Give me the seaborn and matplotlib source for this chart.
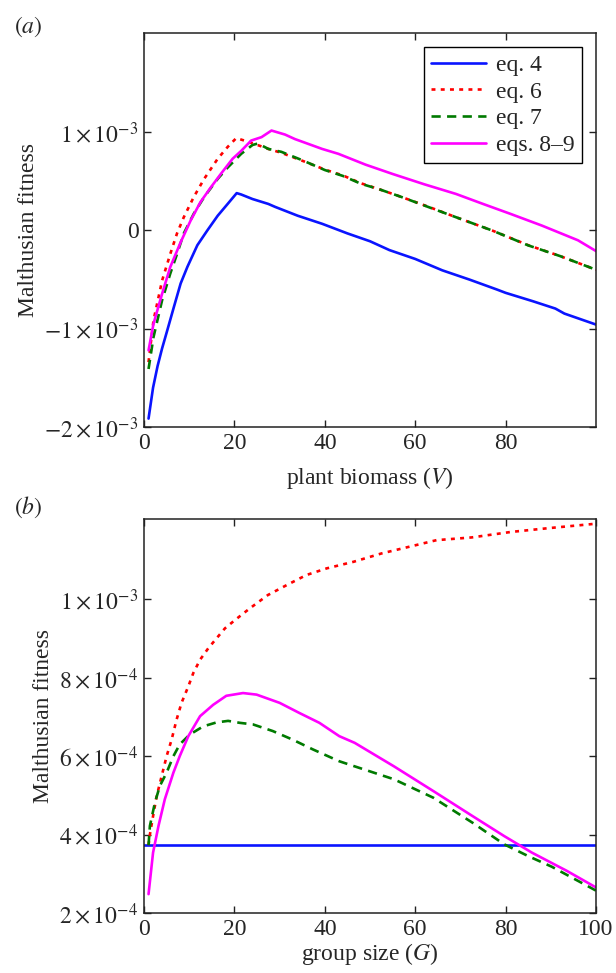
import matplotlib
matplotlib.use("Agg")
import matplotlib.pyplot as plt
import seaborn as sns
import numpy as np

# ---------------- data: panel (a) ----------------
a_eq4_x = [1, 2, 3, 4, 5, 6.6, 8.1, 9.6, 11.8, 14, 16.3, 18.5, 20.5, 21.5, 24, 27.5, 29, 34,
           39.4, 45, 50, 54.3, 60, 66, 72, 78, 80, 86, 91, 93, 100]
a_eq4_y = [-1.915, -1.6, -1.38, -1.2, -1.04, -0.78, -0.54, -0.37, -0.15, 0.0, 0.15, 0.27, 0.38,
           0.366, 0.32, 0.27, 0.24, 0.15, 0.068, -0.03, -0.11, -0.2, -0.29, -0.406, -0.5, -0.6,
           -0.635, -0.72, -0.795, -0.846, -0.958]

a_eq6_x = [1, 2.1, 4, 5.8, 7.3, 8.8, 11, 13.3, 16.3, 18.5, 20.4, 22.2, 24.5, 27.5, 30.4, 35, 40,
           44, 48, 52, 57, 63, 69, 77, 85, 92, 100]
a_eq6_y = [-1.34, -0.915, -0.51, -0.24, -0.03, 0.135, 0.34, 0.525, 0.73, 0.85, 0.94, 0.915, 0.88,
           0.83, 0.79, 0.71, 0.62, 0.56, 0.48, 0.42, 0.34, 0.24, 0.135, 0.0, -0.15, -0.26, -0.40]

a_eq7_x = [1, 2.1, 4, 5.8, 7.3, 8.8, 11, 13.3, 16.3, 18.5, 21.5, 24, 25.2, 27.5, 30.4, 35, 40,
           44, 48, 52, 57, 63, 69, 77, 85, 92, 100]
a_eq7_y = [-1.41, -1.085, -0.71, -0.44, -0.24, -0.03, 0.17, 0.34, 0.525, 0.64, 0.78, 0.87, 0.885,
           0.83, 0.80, 0.715, 0.615, 0.555, 0.475, 0.42, 0.34, 0.237, 0.135, 0.0, -0.152, -0.26, -0.40]

a_eq89_x = [1, 2.1, 4, 5.8, 8.1, 10.3, 12.5, 14.8, 17, 19.6, 21.5, 23.7, 26, 28.2, 31.2, 33.4,
            39.4, 43, 49, 55, 62, 69, 75, 81, 88, 96, 100]
a_eq89_y = [-1.22, -0.95, -0.644, -0.373, -0.12, 0.10, 0.29, 0.44, 0.576, 0.73, 0.81, 0.915, 0.95,
            1.017, 0.976, 0.93, 0.83, 0.78, 0.67, 0.575, 0.47, 0.372, 0.27, 0.17, 0.05, -0.10, -0.21]

# ---------------- data: panel (b) ----------------
b_eq4_x = [0, 100]
b_eq4_y = [3.73, 3.73]

b_eq6_x = [1, 1.3, 2, 2.8, 3.9, 5, 6.1, 7.2, 8.3, 9.8, 10.9, 12.4, 14.2, 16, 17.9, 20.1, 23.4,
           27.4, 31.5, 35.9, 40.4, 46.4, 52.5, 58.6, 64.7, 72.5, 81.2, 89.8, 100]
b_eq6_y = [3.73, 4.0, 4.47, 4.98, 5.49, 6.0, 6.42, 6.93, 7.36, 7.78, 8.12, 8.46, 8.75, 9.0, 9.26,
           9.47, 9.77, 10.11, 10.36, 10.62, 10.79, 10.96, 11.17, 11.34, 11.51, 11.58, 11.72, 11.82, 11.93]

b_eq7_x = [1, 1.3, 2.4, 3.5, 5, 6.5, 7.9, 10.1, 13.1, 16, 18.6, 21.2, 24.1, 28.5, 32.9, 37.4,
           43.2, 46.6, 55.3, 64, 72.7, 79.7, 85, 90.2, 100]
b_eq7_y = [3.73, 4.22, 4.81, 5.24, 5.58, 6.0, 6.3, 6.55, 6.76, 6.86, 6.9, 6.85, 6.81, 6.64, 6.42,
           6.17, 5.87, 5.74, 5.41, 4.94, 4.3, 3.75, 3.45, 3.18, 2.57]

b_eq89_x = [1, 2, 3.2, 4.6, 6.5, 7.9, 9.8, 12.4, 15.3, 18.2, 21.9, 24.9, 30, 34.4, 38.8, 43.2,
            46.6, 55.3, 64, 72.7, 79.7, 85.8, 93.6, 100]
b_eq89_y = [2.48, 3.54, 4.22, 4.9, 5.58, 6.0, 6.51, 7.02, 7.31, 7.54, 7.61, 7.57, 7.36, 7.1, 6.85,
            6.51, 6.34, 5.74, 5.11, 4.47, 3.96, 3.54, 3.07, 2.65]

labels = ["eq. 4", "eq. 6", "eq. 7", "eqs. 8–9"]
colors = ["#0a14ff", "#ff0000", "#007a00", "#ff00ff"]
styles = ["-", (0, (1.5, 2.0)), (0, (3.5, 2.4)), "-"]

a_yticks = [-2e-3, -1e-3, 0, 1e-3]
a_yticklabels = [r"$-2\times10^{-3}$", r"$-1\times10^{-3}$", "0", r"$1\times10^{-3}$"]
b_yticks = [2e-4, 4e-4, 6e-4, 8e-4, 1e-3]
b_yticklabels = [r"$2\times10^{-4}$", r"$4\times10^{-4}$", r"$6\times10^{-4}$",
                 r"$8\times10^{-4}$", r"$1\times10^{-3}$"]

# ---------------- style ----------------
sns.set_theme(style="ticks")
plt.rcParams["font.family"] = ["Liberation Serif", "DejaVu Serif"]
plt.rcParams["mathtext.fontset"] = "stix"
plt.rcParams["xtick.direction"] = "in"
plt.rcParams["ytick.direction"] = "in"
plt.rcParams["xtick.top"] = True
plt.rcParams["ytick.right"] = True
FS = 17

fig = plt.figure(figsize=(6.16, 9.73), dpi=100)
ax1 = fig.add_axes([0.2338, 0.5612, 0.7338, 0.4049])
ax2 = fig.add_axes([0.2338, 0.0617, 0.7338, 0.4049])

a_series = [(a_eq4_x, a_eq4_y), (a_eq6_x, a_eq6_y), (a_eq7_x, a_eq7_y), (a_eq89_x, a_eq89_y)]
b_series = [(b_eq4_x, b_eq4_y), (b_eq6_x, b_eq6_y), (b_eq7_x, b_eq7_y), (b_eq89_x, b_eq89_y)]

for (x, y), lab, c, ls in zip(a_series, labels, colors, styles):
    sns.lineplot(x=np.array(x), y=np.array(y) * 1e-3, ax=ax1, color=c, linestyle=ls,
                 linewidth=1.9, label=lab, estimator=None)
for (x, y), lab, c, ls in zip(b_series, labels, colors, styles):
    sns.lineplot(x=np.array(x), y=np.array(y) * 1e-4, ax=ax2, color=c, linestyle=ls,
                 linewidth=1.9, label=None, estimator=None)

# axes (a)
ax1.set_xlim(0, 100)
ax1.set_ylim(-2e-3, 2.01e-3)
ax1.set_xticks([0, 20, 40, 60, 80])
ax1.set_yticks(a_yticks)
ax1.set_yticklabels(a_yticklabels)
ax1.set_xlabel(r"plant biomass ($V$)", fontsize=FS, labelpad=8)
ax1.set_ylabel("Malthusian fitness", fontsize=FS, labelpad=4)
leg = ax1.legend(loc="upper right", bbox_to_anchor=(0.969, 0.964), borderaxespad=0,
                 fontsize=FS, frameon=True, fancybox=False, framealpha=1, edgecolor="black",
                 handlelength=2.3, handletextpad=0.45, labelspacing=0.22, borderpad=0.3)
leg.get_frame().set_linewidth(1.0)

# axes (b)
ax2.set_xlim(0, 100)
ax2.set_ylim(2e-4, 1.205e-3)
ax2.set_xticks([0, 20, 40, 60, 80, 100])
ax2.set_yticks(b_yticks)
ax2.set_yticklabels(b_yticklabels)
ax2.set_xlabel(r"group size ($G$)", fontsize=FS, labelpad=1)
ax2.set_ylabel("Malthusian fitness", fontsize=FS, labelpad=4)

for ax in (ax1, ax2):
    for s in ax.spines.values():
        s.set_visible(True)
        s.set_linewidth(1.1)
        s.set_color("#222222")
    ax.tick_params(axis="both", which="major", length=5, width=1.0, labelsize=FS,
                   color="#222222", pad=4)

fig.text(0.022, 0.972, r"$(a)$", fontsize=FS, ha="left", va="center")
fig.text(0.022, 0.479, r"$(b)$", fontsize=FS, ha="left", va="center")

fig.savefig("out.png", dpi=100)
